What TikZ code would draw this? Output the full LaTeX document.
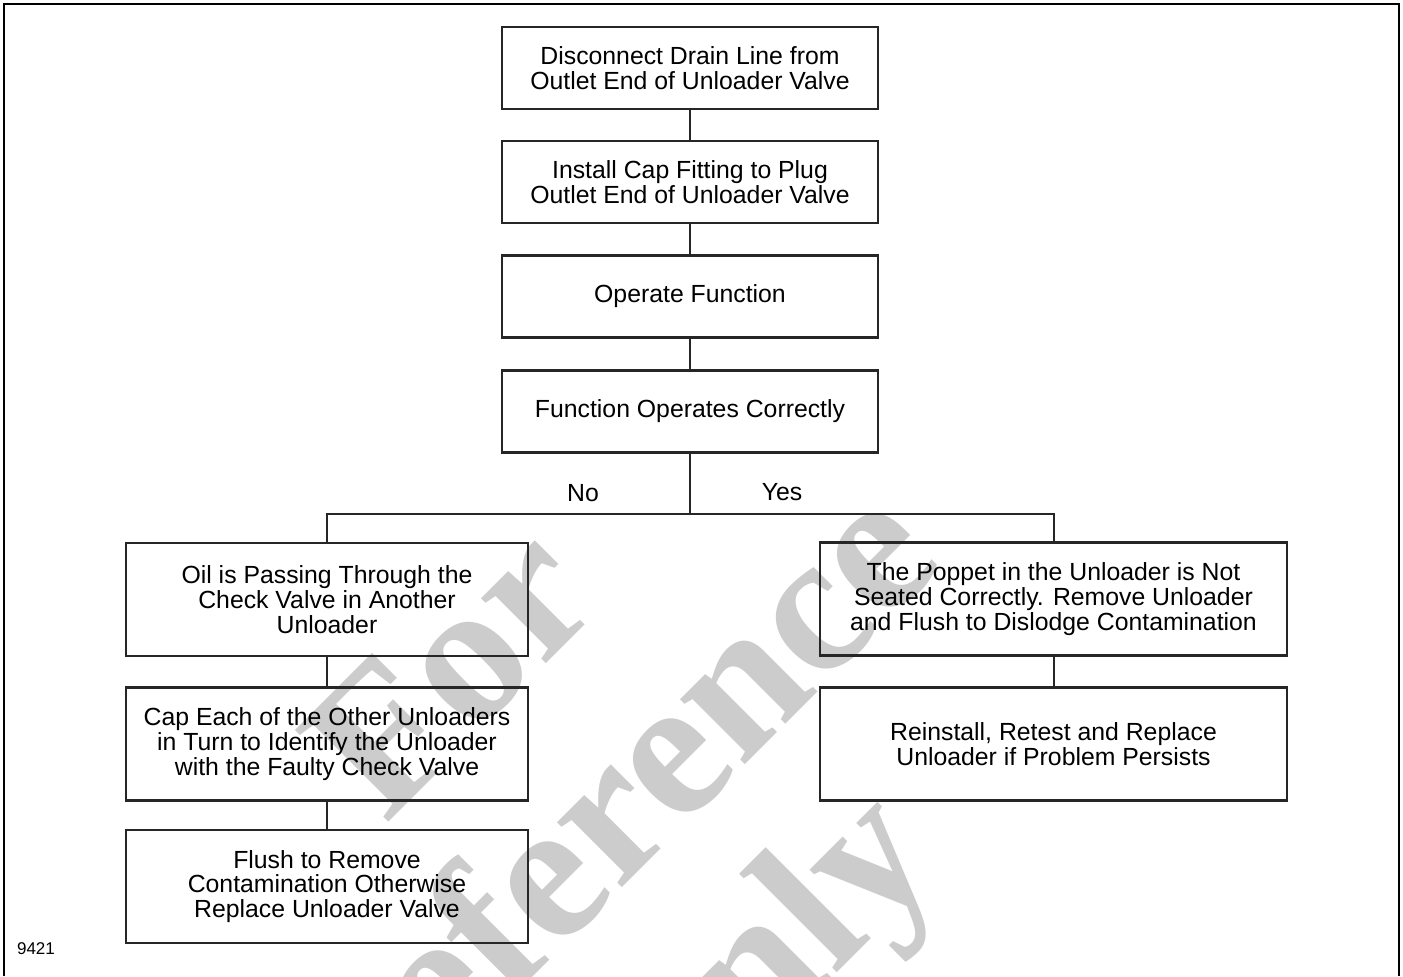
\documentclass[tikz,border=0pt]{standalone}
\usepackage{fontspec}
\setmainfont{Liberation Sans}
\newfontfamily\markfont{Liberation Serif}
\definecolor{markgray}{RGB}{204,204,204}
\begin{document}
\begin{tikzpicture}[x=0.5pt,y=-0.5pt]
\tikzstyle{every node}+=[inner sep=0pt]
\tikzstyle{stepbox}=[draw=black!85, line width=1.2pt, align=center, font=\fontsize{12.4}{12.4}\selectfont]
\tikzstyle{topbox}=[stepbox, minimum width=188pt, minimum height=41pt]
\tikzstyle{leftbox}=[stepbox, minimum width=201pt, minimum height=56.5pt]
\tikzstyle{rightbox}=[stepbox, minimum width=233.5pt, minimum height=56.5pt]
\tikzstyle{link}=[black!85, line width=1pt]
\useasboundingbox (0,0) rectangle (1403,976);
\node [rotate=45, text=markgray, align=center, font=\markfont\bfseries\fontsize{100}{106}\selectfont] (mark) at (614,834) {For\\Reference\\Only};
\draw [black, line width=1pt] (4,976) -- (4,4) -- (1399,4) -- (1399,976);
\node [topbox] (drain) at (690,68) {Disconnect Drain Line from\\Outlet End of Unloader Valve};
\node [topbox] (plug) at (690,182) {Install Cap Fitting to Plug\\Outlet End of Unloader Valve};
\node [topbox] (operate) at (690,296.5) {Operate Function};
\node [topbox] (works) at (690,411.5) {Function Operates Correctly};
\node [leftbox] (oil) at (327,599.5) {Oil is Passing Through the\\Check Valve in Another\\Unloader};
\node [leftbox] (capeach) at (327,744) {Cap Each of the Other Unloaders\\in Turn to Identify the Unloader\\with the Faulty Check Valve};
\node [leftbox] (flush) at (327,886.5) {Flush to Remove\\Contamination Otherwise\\Replace Unloader Valve};
\node [rightbox] (poppet) at (1053.5,599) {The Poppet in the Unloader is Not\\Seated Correctly. Remove Unloader\\and Flush to Dislodge Contamination};
\node [rightbox] (retest) at (1053.5,744) {Reinstall, Retest and Replace\\Unloader if Problem Persists};
\coordinate (split) at (690,514);
\draw [link] (drain) -- (plug);
\draw [link] (plug) -- (operate);
\draw [link] (operate) -- (works);
\draw [link] (works) -- (split);
\draw [link] (oil.north) |- (split) -| (poppet.north);
\draw [link] (oil) -- (capeach);
\draw [link] (capeach) -- (flush);
\draw [link] (poppet) -- (retest);
\node [font=\fontsize{12.4}{12.4}\selectfont] (no) at (583,493) {No};
\node [font=\fontsize{12.4}{12.4}\selectfont] (yes) at (782,492) {Yes};
\node [font=\fontsize{8.5}{8.5}\selectfont] (fig) at (36,949) {9421};
\end{tikzpicture}
\end{document}
